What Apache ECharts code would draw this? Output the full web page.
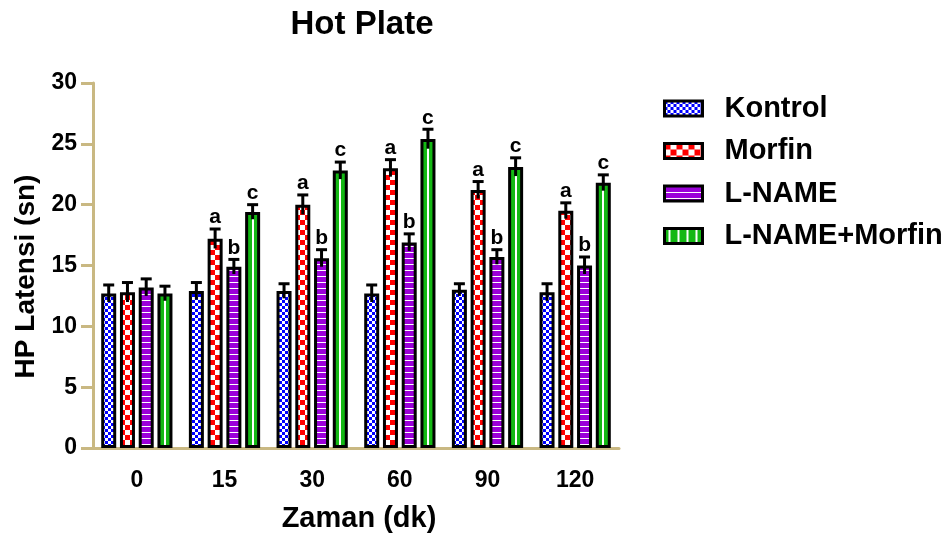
<!DOCTYPE html>
<html>
<head>
<meta charset="utf-8">
<script src="https://cdn.jsdelivr.net/npm/echarts@6/dist/echarts.min.js"></script>
<style>
html,body{margin:0;padding:0;background:#fff;}
#chart{width:948px;height:540px;}
</style>
</head>
<body>
<div id="chart"></div>
<script>
// ---- data ----
const categories = ['0', '15', '30', '60', '90', '120'];
const seriesNames = ['Kontrol', 'Morfin', 'L-NAME', 'L-NAME+Morfin'];
const kontrol = [12.7, 12.9, 12.9, 12.7, 13.0, 12.8];
const kontrolErr = [0.7, 0.7, 0.6, 0.7, 0.5, 0.7];
const morfin = [12.8, 17.2, 20.0, 23.0, 21.2, 19.5];
const morfinErr = [0.8, 0.8, 0.8, 0.7, 0.7, 0.65];
const lname = [13.2, 14.9, 15.6, 16.9, 15.7, 15.0];
const lnameErr = [0.7, 0.6, 0.7, 0.7, 0.6, 0.7];
const lnameMorfin = [12.7, 19.4, 22.8, 25.4, 23.1, 21.8];
const lnameMorfinErr = [0.6, 0.6, 0.7, 0.8, 0.75, 0.65];
const kontrolLetters = ['', '', '', '', '', ''];
const morfinLetters = ['', 'a', 'a', 'a', 'a', 'a'];
const lnameLetters = ['', 'b', 'b', 'b', 'b', 'b'];
const lnameMorfinLetters = ['', 'c', 'c', 'c', 'c', 'c'];
const yTicks = { min: 0, max: 30, interval: 5 };

// ---- styles ----
const FONT = '"Liberation Sans", Arial, sans-serif';
const AXIS_COLOR = '#c9b882';
const BAR_W = 15;
const BAR_GAP = 0.25;
const PITCH = BAR_W * (1 + BAR_GAP);

function checker(size, c1, c2) {
  const cv = document.createElement('canvas');
  cv.width = cv.height = size * 2;
  const ctx = cv.getContext('2d');
  ctx.fillStyle = c2; ctx.fillRect(0, 0, size * 2, size * 2);
  ctx.fillStyle = c1; ctx.fillRect(0, 0, size, size); ctx.fillRect(size, size, size, size);
  return { image: cv, repeat: 'repeat' };
}
function hLines(period, c) {
  const cv = document.createElement('canvas');
  cv.width = 4; cv.height = period;
  const ctx = cv.getContext('2d');
  ctx.fillStyle = c; ctx.fillRect(0, 0, 4, period);
  ctx.fillStyle = '#ffffff'; ctx.fillRect(0, 0, 4, 1);
  return { image: cv, repeat: 'repeat' };
}
function vLines(period, c) {
  const cv = document.createElement('canvas');
  cv.width = period; cv.height = 4;
  const ctx = cv.getContext('2d');
  ctx.fillStyle = c; ctx.fillRect(0, 0, period, 4);
  ctx.fillStyle = '#ffffff'; ctx.fillRect(Math.floor(period / 2), 0, 2, 4);
  return { image: cv, repeat: 'repeat' };
}
const GREEN = '#14b814';
const fills = [
  checker(3, '#0000ff', '#ffffff'),
  checker(5, '#ff0000', '#ffffff'),
  hLines(6, '#9b00d9'),
  { type: 'linear', x: 0, y: 0, x2: 1, y2: 0, colorStops: [
      { offset: 0, color: GREEN }, { offset: 0.43, color: GREEN },
      { offset: 0.43, color: '#ffffff' }, { offset: 0.57, color: '#ffffff' },
      { offset: 0.57, color: GREEN }, { offset: 1, color: GREEN }] }
];
const legendFills = [fills[0], checker(6, '#ff0000', '#ffffff'), fills[2], vLines(9, GREEN)];

const values = [kontrol, morfin, lname, lnameMorfin];
const errs = [kontrolErr, morfinErr, lnameErr, lnameMorfinErr];
const letters = [kontrolLetters, morfinLetters, lnameLetters, lnameMorfinLetters];

const errItems = [];
values.forEach((arr, s) => arr.forEach((v, i) => {
  errItems.push({ cat: i, v: v, e: errs[s][i], s: s, letter: letters[s][i] });
}));

const barSeries = seriesNames.map((name, s) => ({
  name: name,
  type: 'bar',
  data: values[s],
  barWidth: BAR_W,
  barGap: (BAR_GAP * 100) + '%',
  itemStyle: { color: fills[s], borderColor: '#000', borderWidth: 3 },
  emphasis: { disabled: true }
}));

const errSeries = {
  type: 'custom',
  silent: true,
  z: 5,
  data: errItems.map(d => [d.cat, d.v + d.e]),
  encode: { x: 0, y: 1 },
  renderItem: function (params, api) {
    const d = errItems[params.dataIndex];
    const off = (d.s - 1.5) * PITCH;
    const pTop = api.coord([d.cat, d.v + d.e]);
    const pBot = api.coord([d.cat, d.v - d.e]);
    const x = pTop[0] + off;
    const children = [
      { type: 'line', shape: { x1: x, y1: pBot[1], x2: x, y2: pTop[1] }, style: { stroke: '#000', lineWidth: 3 } },
      { type: 'line', shape: { x1: x - 5.5, y1: pTop[1], x2: x + 5.5, y2: pTop[1] }, style: { stroke: '#000', lineWidth: 3 } }
    ];
    if (d.letter) {
      children.push({ type: 'text', style: { text: d.letter, x: x, y: pTop[1] - 1, align: 'center', verticalAlign: 'bottom',
        font: 'bold 21px ' + FONT, fill: '#000' } });
    }
    return { type: 'group', children: children };
  }
};

const chart = echarts.init(document.getElementById('chart'), null, { renderer: 'canvas' });
chart.setOption({
  animation: false,
  backgroundColor: '#ffffff',
  title: {
    text: 'Hot Plate', left: 357, top: 3, textAlign: 'center',
    textStyle: { fontFamily: FONT, fontSize: 33, fontWeight: 'bold', color: '#000' }
  },
  legend: {
    orient: 'vertical', left: 663, top: 94, icon: 'rect', padding: 0,
    itemWidth: 38, itemHeight: 15, itemGap: 13.5,
    selectedMode: false,
    textStyle: { fontFamily: FONT, fontSize: 29, fontWeight: 'bold', color: '#000', padding: [0, 0, 0, 17] },
    data: seriesNames.map((n, s) => ({ name: n, itemStyle: { color: legendFills[s], borderColor: '#000', borderWidth: 3 } }))
  },
  grid: { left: 93, right: 329, top: 83, bottom: 92, containLabel: false },
  xAxis: {
    type: 'category', data: categories,
    name: 'Zaman (dk)', nameLocation: 'middle', nameGap: 56,
    nameTextStyle: { fontFamily: FONT, fontSize: 29, fontWeight: 'bold', color: '#000', padding: [0, 0, 0, 6] },
    axisLine: { lineStyle: { color: AXIS_COLOR, width: 3 } },
    axisTick: { alignWithLabel: true, length: 10, lineStyle: { color: AXIS_COLOR, width: 3 } },
    axisLabel: { margin: 21, fontFamily: FONT, fontSize: 23, fontWeight: 'bold', color: '#000' }
  },
  yAxis: {
    type: 'value', min: yTicks.min, max: yTicks.max, interval: yTicks.interval,
    name: 'HP Latensi (sn)', nameLocation: 'middle', nameGap: 50, nameRotate: 90,
    nameTextStyle: { fontFamily: FONT, fontSize: 28, fontWeight: 'bold', color: '#000', padding: [0, 22, 0, 0] },
    axisLine: { show: true, lineStyle: { color: AXIS_COLOR, width: 3 } },
    axisTick: { show: true, length: 12, lineStyle: { color: AXIS_COLOR, width: 3 } },
    splitLine: { show: false },
    axisLabel: { margin: 16, fontFamily: FONT, fontSize: 23, fontWeight: 'bold', color: '#000' }
  },
  series: barSeries.concat([errSeries])
});
</script>
</body>
</html>
